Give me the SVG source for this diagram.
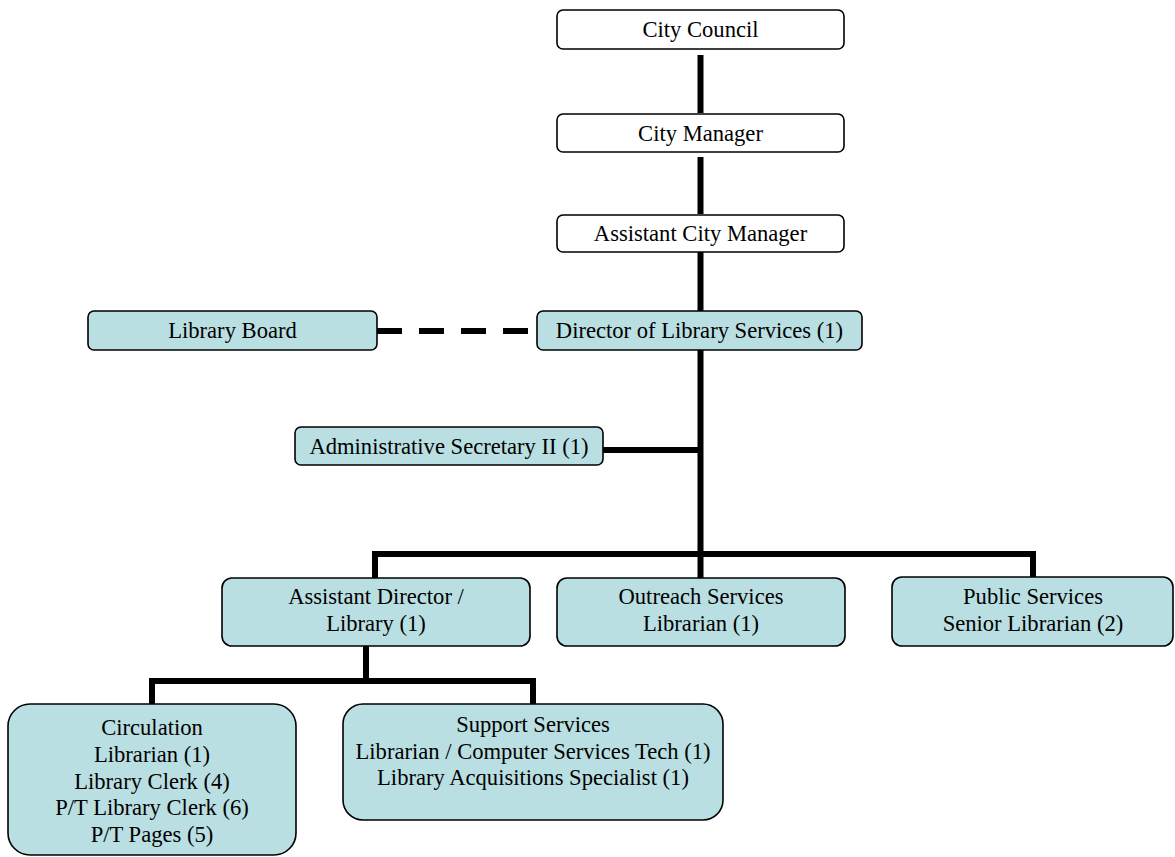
<svg xmlns="http://www.w3.org/2000/svg" width="1175" height="857" viewBox="0 0 1175 857">
<style>
.w{fill:#ffffff;stroke:#000;stroke-width:1.6}
.b{fill:#b9dfe2;stroke:#000;stroke-width:1.6}
text{font-family:"Liberation Serif","Times New Roman",serif;font-size:22.6px;fill:#000;text-anchor:middle}
.ln{stroke:#000;stroke-width:6;fill:none;stroke-linecap:butt}
</style>
<rect width="1175" height="857" fill="#ffffff"/>
<g id="connectors">
<line class="ln" x1="700.5" y1="55" x2="700.5" y2="113"/>
<line class="ln" x1="700.5" y1="157" x2="700.5" y2="214"/>
<line class="ln" x1="700.5" y1="252" x2="700.5" y2="311"/>
<line class="ln" x1="700.5" y1="350" x2="700.5" y2="578"/>
<line class="ln" x1="603" y1="450" x2="700.5" y2="450"/>
<line class="ln" x1="377" y1="331" x2="528" y2="331" stroke-dasharray="25 17"/>
<polyline class="ln" points="375,578 375,554 1033,554 1033,577"/>
<line class="ln" x1="366" y1="646" x2="366" y2="681"/>
<polyline class="ln" points="152,704 152,681 533,681 533,704"/>
</g>
<g id="city-council"><rect class="w" x="557" y="10" width="287" height="39" rx="6"/><text x="700.5" y="37">City Council</text></g>
<g id="city-manager"><rect class="w" x="557" y="114" width="287" height="38" rx="6"/><text x="700.5" y="140.5">City Manager</text></g>
<g id="assistant-city-manager"><rect class="w" x="557" y="215" width="287" height="37" rx="6"/><text x="700.5" y="241">Assistant City Manager</text></g>
<g id="director"><rect class="b" x="537" y="311" width="325" height="39" rx="6"/><text x="699.5" y="338">Director of Library Services (1)</text></g>
<g id="library-board"><rect class="b" x="88" y="311" width="289" height="39" rx="6"/><text x="232.5" y="338">Library Board</text></g>
<g id="admin-secretary"><rect class="b" x="295" y="427" width="308" height="38" rx="6"/><text x="449" y="453.5">Administrative Secretary II (1)</text></g>
<g id="assistant-director"><rect class="b" x="222" y="578" width="308" height="68" rx="10"/><text x="376" y="604">Assistant Director /</text><text x="376" y="631">Library (1)</text></g>
<g id="outreach"><rect class="b" x="557" y="578" width="288" height="68" rx="10"/><text x="701" y="604">Outreach Services</text><text x="701" y="631">Librarian (1)</text></g>
<g id="public-services"><rect class="b" x="892" y="577" width="281" height="69" rx="10"/><text x="1033" y="604">Public Services</text><text x="1033" y="631">Senior Librarian (2)</text></g>
<g id="circulation"><rect class="b" x="8" y="704" width="288" height="151" rx="22"/><text x="152" y="735">Circulation</text><text x="152" y="762">Librarian (1)</text><text x="152" y="788.5">Library Clerk (4)</text><text x="152" y="815">P/T Library Clerk (6)</text><text x="152" y="841.5">P/T Pages (5)</text></g>
<g id="support-services"><rect class="b" x="343" y="704" width="380" height="116" rx="20"/><text x="533" y="732">Support Services</text><text x="533" y="758.5">Librarian / Computer Services Tech (1)</text><text x="533" y="785">Library Acquisitions Specialist (1)</text></g>
</svg>
